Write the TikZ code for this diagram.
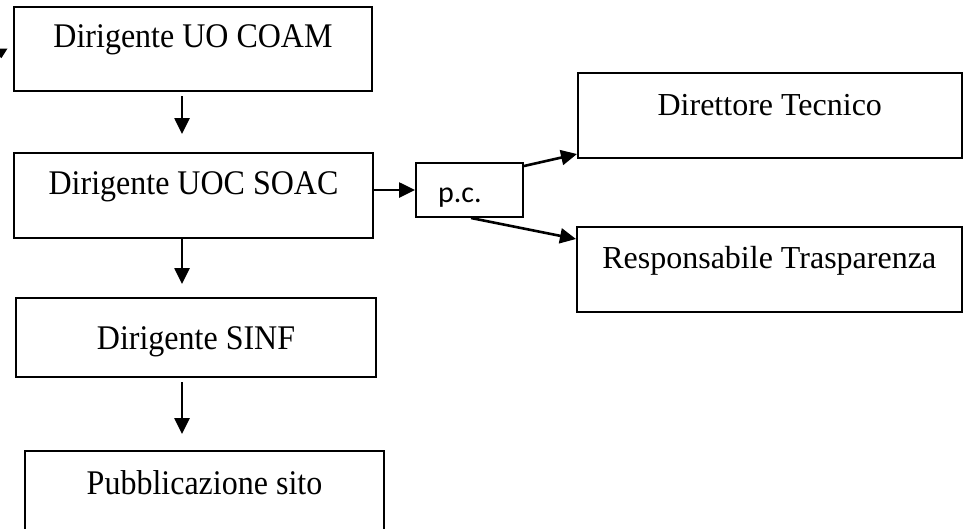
\documentclass[tikz,border=0pt]{standalone}
\usepackage{fontspec}
\usepackage{graphicx}
\setmainfont{Liberation Serif}
\newfontfamily\pcfont{Carlito}
\usetikzlibrary{arrows.meta,calc}
\tikzset{
  box/.style={draw=black, line width=2pt, inner sep=0pt, fill=white,
    font=\fontsize{32}{38}\selectfont},
  arr/.style={line width=2.6pt, -{Triangle[length=16pt,width=15pt]}},
}
\newcommand{\tallt}[1]{\scalebox{1}[1.08]{#1}}
\begin{document}
\begin{tikzpicture}[x=1pt,y=-1pt]
\useasboundingbox (0,0) rectangle (963,528);
\clip (0,0) rectangle (963,528);
\fill[white] (0,0) rectangle (963,528);
% left column
\node[box, anchor=base, minimum width=358pt, text height=40.5pt, text depth=43pt] (coam) at (193,47.5) {\tallt{Dirigente UO COAM}};
\node[box, anchor=base, minimum width=359pt, text height=41pt, text depth=43.5pt] (soac) at (193.5,194) {\tallt{Dirigente UOC SOAC}};
\node[box, anchor=base, minimum width=360pt, text height=51pt, text depth=27.5pt] (sinf) at (196,349) {\tallt{Dirigente SINF}};
\node[box, anchor=base, minimum width=359pt, text height=43pt, text depth=60pt] (pub) at (204.5,494) {\tallt{Pubblicazione sito}};
% p.c.
\node[box, anchor=base west, font=\pcfont\fontsize{30}{36}\selectfont, text height=39pt, text depth=15pt] (pc) at (415,202) {\makebox[107pt][l]{\hspace*{22pt}p.c.}};
% right column
\node[box, anchor=base, minimum width=383.5pt, text height=42pt, text depth=43pt] (dir) at (769.75,115) {Direttore Tecnico};
\node[box, anchor=base, minimum width=384.5pt, text height=41pt, text depth=44pt] (resp) at (769.25,268) {Responsabile Trasparenza};
% connectors
\draw[arr] ($(coam.south)+(-11,4.5)$) -- ($(soac.north)+(-11.5,-18)$);
\draw[arr] ($(soac.south)+(-11.5,0)$) -- ($(sinf.north)+(-14,-13)$);
\draw[arr] ($(sinf.south)+(-14,4.5)$) -- ($(pub.north)+(-22.5,-16)$);
\draw[arr] (soac.east |- pc.west) -- (pc.west);
\draw[arr] ($(pc.north east)+(0,4)$) -- ($(dir.south west)+(0,-5)$);
\draw[arr] ($(pc.south)+(1.5,0)$) -- ($(resp.north west)+(0,13)$);
% cut-off arrowhead at the left edge
\fill (0,48.5) -- (7.5,48.5) -- (1.5,58) -- (0,57) -- cycle;
\end{tikzpicture}
\end{document}
